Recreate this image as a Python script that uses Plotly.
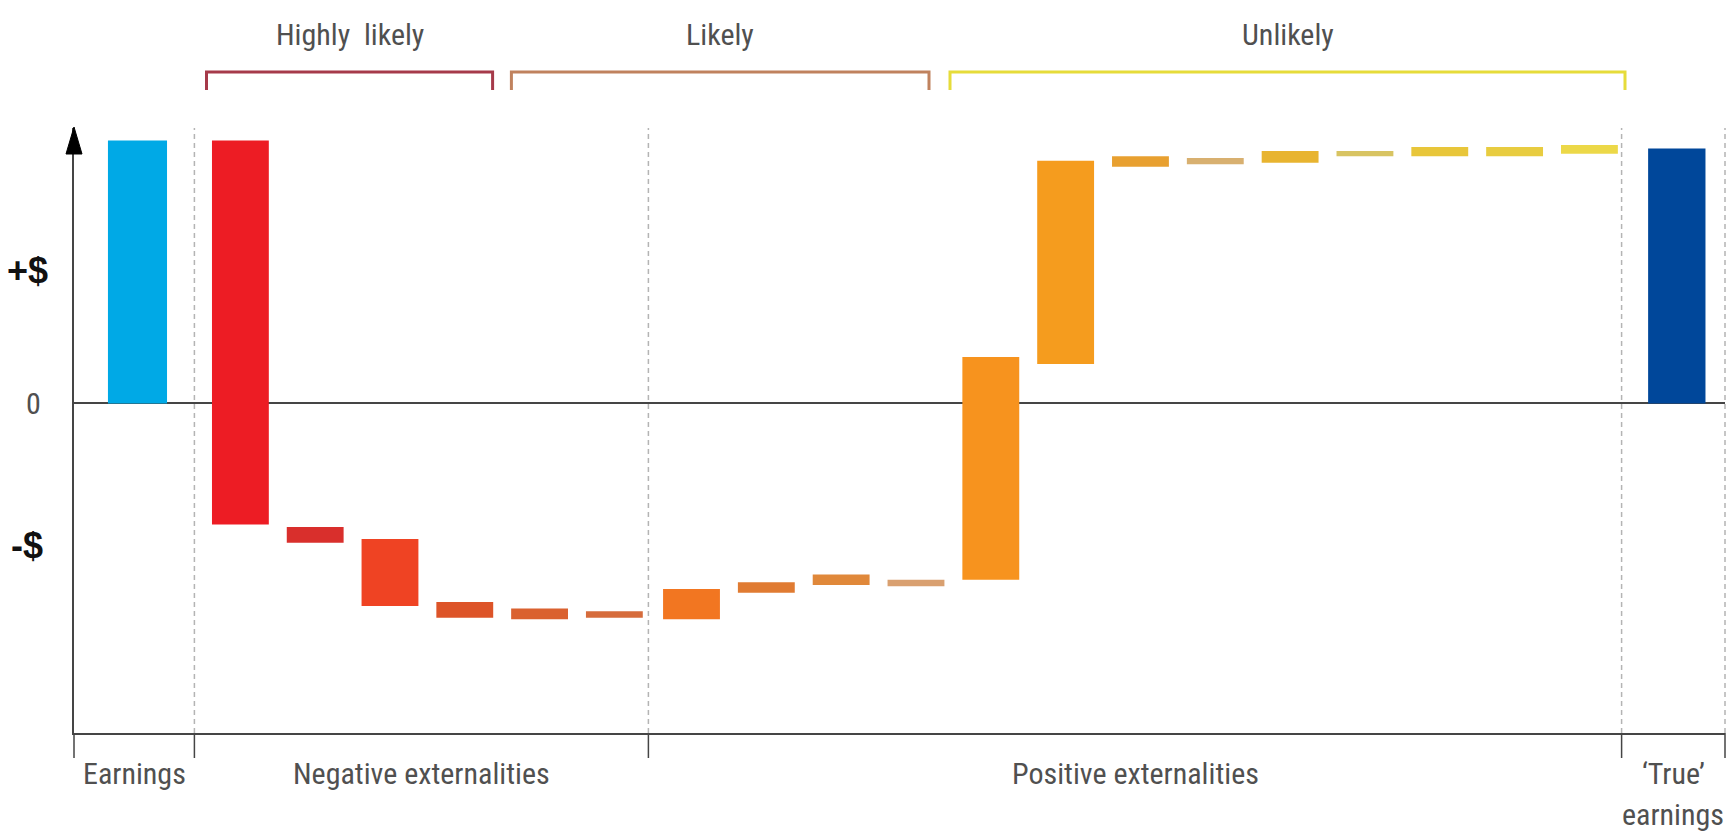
import plotly.graph_objects as go

# ---- data (arbitrary $ units; reported earnings = 100) ----
earn_cat = ["Earnings"]
earn_low = [0]
earn_high = [100]

neg_cat = ["Neg 1", "Neg 2", "Neg 3", "Neg 4", "Neg 5", "Neg 6"]
neg_low = [-46, -53, -77, -81.5, -82, -81.5]
neg_high = [100, -47, -51.5, -75.5, -78, -79]

pos_cat = ["Pos 1", "Pos 2", "Pos 3", "Pos 4", "Pos 5", "Pos 6", "Pos 7",
           "Pos 8", "Pos 9", "Pos 10", "Pos 11", "Pos 12", "Pos 13"]
pos_low = [-82, -72, -69, -69.5, -67, 15, 90, 91, 91.5, 94, 94, 94, 95]
pos_high = [-70.5, -68, -65, -67, 17.7, 92.3, 94, 93.3, 96, 96, 97.5, 97.5, 98.3]

true_cat = ["True earnings"]
true_low = [0]
true_high = [97]

section_labels = ["Earnings", "Negative externalities", "Positive externalities"]
likelihood_labels = ["Highly  likely", "Likely", "Unlikely"]
y_labels = ["+$", "0", "-$"]
y_label_pos = [50.7, 0, -54]

# ---- styles ----
earn_colors = ["#00a9e6"]
neg_colors = ["#ed1c24", "#d92f2c", "#ef4323", "#dd5428", "#da612f", "#d66c3c"]
pos_colors = ["#f27621", "#e07b32", "#e0883a", "#d9a070", "#f7931e", "#f59c1e",
              "#e8a030", "#d8b070", "#e8b430", "#d8c462", "#e8c63a", "#e8cc40", "#ecd848"]
true_colors = ["#00479a"]
bracket_colors = ["#a63a4a", "#c0825e", "#e6dc3a"]

FONT = "Liberation Sans Narrow, Arial Narrow, Roboto Condensed, DejaVu Sans Condensed, Liberation Sans, sans-serif"
TEXT = "#505050"
AXIS = "#454545"

W, H = 1732, 836
ML, MR, MT, MB = 74, 7, 128, 103
PW, PH = W - ML - MR, H - MT - MB


def px_x(p):
    return (p - ML) / PW


def px_y(p):
    return (H - MB - p) / PH


bounds = [px_x(194.4), px_x(648.4), px_x(1621.6)]
domains = [[0, bounds[0]], [bounds[0], bounds[1]], [bounds[1], bounds[2]], [bounds[2], 1]]
ranges = [[-0.849, 0.761], [-0.615, 5.455], [-0.576, 12.43], [-0.741, 0.647]]

fig = go.Figure()

groups = [
    (earn_cat, earn_low, earn_high, earn_colors, "x", 0.79),
    (neg_cat, neg_low, neg_high, neg_colors, "x2", 0.76),
    (pos_cat, pos_low, pos_high, pos_colors, "x3", 0.76),
    (true_cat, true_low, true_high, true_colors, "x4", 0.77),
]
for cats, lo, hi, cols, xa, w in groups:
    fig.add_trace(go.Bar(
        x=cats, y=[h - l for l, h in zip(lo, hi)], base=lo,
        marker=dict(color=cols, line=dict(width=0)),
        width=w, xaxis=xa, yaxis="y", showlegend=False, hoverinfo="skip",
    ))

axis_common = dict(showgrid=False, zeroline=False, showticklabels=False, ticks="",
                   showline=True, linecolor=AXIS, linewidth=2, fixedrange=True,
                   type="category", anchor="y")
layout_axes = {}
for i, (dom, rng) in enumerate(zip(domains, ranges)):
    key = "xaxis" if i == 0 else f"xaxis{i + 1}"
    layout_axes[key] = dict(axis_common, domain=dom, range=rng)

fig.update_layout(
    width=W, height=H,
    margin=dict(l=ML, r=MR, t=MT, b=MB, pad=0),
    paper_bgcolor="white", plot_bgcolor="white",
    barmode="overlay",
    font=dict(family=FONT, color=TEXT, size=30),
    yaxis=dict(range=[-125.3, 104.75], showgrid=False, showticklabels=False, ticks="",
               showline=True, linecolor=AXIS, linewidth=2,
               zeroline=True, zerolinecolor=AXIS, zerolinewidth=2, fixedrange=True),
    **layout_axes,
)

shapes = []
# dashed section separators
for xp in bounds + [1.0]:
    shapes.append(dict(type="line", xref="paper", yref="paper", x0=xp, x1=xp, y0=0, y1=1.0,
                       line=dict(color="#b4b4b4", width=1.5, dash="5px,4px"), layer="below"))
# tick marks under the x axis at section boundaries
for xp in [0.0] + bounds + [1.0]:
    shapes.append(dict(type="line", xref="paper", yref="paper", x0=xp, x1=xp,
                       y0=0, y1=px_y(758), line=dict(color=AXIS, width=1.5)))
# arrowhead on the y axis
hw = 8 / PW
shapes.append(dict(type="path", xref="paper", yref="paper",
                   path=f"M {-hw},{px_y(154)} L 0,{px_y(127)} L {hw},{px_y(154)} Z",
                   fillcolor="black", line=dict(color="black", width=1)))
# likelihood brackets
bracket_px = [(206.5, 492.6), (511.4, 929.0), (950.0, 1625.0)]
for (a, b), col in zip(bracket_px, bracket_colors):
    xa, xb = px_x(a), px_x(b)
    yt, yb = px_y(72), px_y(90)
    shapes.append(dict(type="path", xref="paper", yref="paper",
                       path=f"M {xa},{yb} L {xa},{yt} L {xb},{yt} L {xb},{yb}",
                       line=dict(color=col, width=3)))
fig.update_layout(shapes=shapes)

ann = []
for (a, b), lab in zip(bracket_px, likelihood_labels):
    ann.append(dict(text=lab, xref="paper", yref="paper", x=px_x((a + b) / 2), y=px_y(35),
                    xanchor="center", yanchor="middle", showarrow=False))
for i, lab in enumerate(section_labels):
    ann.append(dict(text=lab, xref=("x" if i == 0 else f"x{i + 1}") + " domain", yref="paper",
                    x=0.5, y=px_y(773), xanchor="center", yanchor="middle", showarrow=False))
ann.append(dict(text="\u2018True\u2019", xref="x4 domain", yref="paper", x=0.5, y=px_y(773),
                xanchor="center", yanchor="middle", showarrow=False))
ann.append(dict(text="earnings", xref="x4 domain", yref="paper", x=0.5, y=px_y(815),
                xanchor="center", yanchor="middle", showarrow=False))
for lab, yv in zip(y_labels, y_label_pos):
    if lab == "0":
        ann.append(dict(text=lab, xref="paper", yref="y", x=px_x(33), y=yv,
                        xanchor="center", yanchor="middle", showarrow=False,
                        font=dict(size=30, color=TEXT)))
    else:
        ann.append(dict(text=f"<b>{lab}</b>", xref="paper", yref="y", x=px_x(27), y=yv,
                        xanchor="center", yanchor="middle", showarrow=False,
                        font=dict(size=36, color="#111111", family="Liberation Sans, Arial, sans-serif")))
fig.update_layout(annotations=ann)

fig.write_html("out.html", config={"displayModeBar": False})
